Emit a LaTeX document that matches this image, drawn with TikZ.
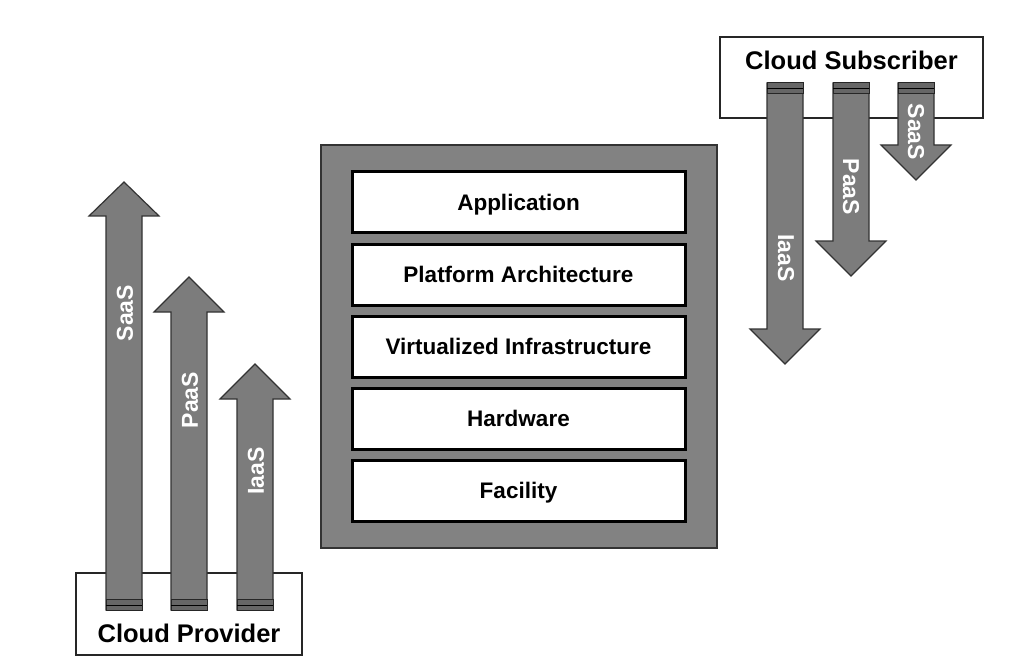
\documentclass[tikz,border=0pt]{standalone}
\usepackage{fontspec}
\setmainfont{Liberation Sans}

\tikzset{
  arrowbody/.style={fill=arrowgray, draw=black!80, line width=1.2pt, line join=miter},
  arrowbase/.style={fill=black!60, draw=black!85, line width=1.0pt},
  stripe/.style={draw=black, line width=1.4pt},
  arrowlbl/.style={text=white, inner sep=0pt, font=\fontsize{23}{27}\selectfont\bfseries},
  layer/.style={draw=black, line width=3pt, fill=white, minimum width=333pt, minimum height=61pt,
                inner sep=0pt, text height=16pt, text depth=0pt, font=\fontsize{22.5}{27}\selectfont\bfseries},
  stack/.style={draw=black!80, line width=1.2pt, fill=stackgray, minimum width=396pt, minimum height=403pt, inner sep=0pt},
  party/.style={draw=black!85, line width=1.2pt, fill=white, inner sep=0pt},
  partylbl/.style={inner sep=0pt, font=\fontsize{25.5}{30}\selectfont\bfseries}
}
\definecolor{arrowgray}{HTML}{7C7C7C}
\definecolor{stackgray}{HTML}{828282}

\begin{document}
\begin{tikzpicture}[x=1pt, y=-1pt]

  %% ════ canvas ════
  \path[use as bounding box, fill=white] (0,0) rectangle (1024,668);

  %% ════ layer stack (middle) ════
  \node[stack] (stack) at (519,346.5) {};
  \node[layer] (app)  at (518.5,202.5) {Application};
  \node[layer] (plat) at (518.5,274.5) {Platform Architecture};
  \node[layer] (virt) at (518.5,346.5) {Virtualized Infrastructure};
  \node[layer] (hw)   at (518.5,418.5) {Hardware};
  \node[layer] (fac)  at (518.5,490.5) {Facility};

  %% ════ Cloud Provider (bottom left) ════
  \node[party, minimum width=226pt, minimum height=82pt] (provider) at (189,614) {};
  \node[partylbl] (providerlbl) at (189,633) {Cloud Provider};

  % SaaS
  \draw[arrowbody] (106,610) -- (106,216) -- (89,216) -- (124,182) -- (159,216) -- (142,216) -- (142,610) -- cycle;
  \draw[arrowbase] (106,599) rectangle (142,610);
  \draw[stripe] (106,605.5) -- (142,605.5);
  \node[arrowlbl, rotate=90] (saasup) at (125,313) {SaaS};
  % PaaS
  \draw[arrowbody] (171,610) -- (171,312) -- (154,312) -- (189,277) -- (224,312) -- (207,312) -- (207,610) -- cycle;
  \draw[arrowbase] (171,599) rectangle (207,610);
  \draw[stripe] (171,605.5) -- (207,605.5);
  \node[arrowlbl, rotate=90] (paasup) at (190,400) {PaaS};
  % IaaS
  \draw[arrowbody] (237,610) -- (237,399) -- (220,399) -- (255,364) -- (290,399) -- (273,399) -- (273,610) -- cycle;
  \draw[arrowbase] (237,599) rectangle (273,610);
  \draw[stripe] (237,605.5) -- (273,605.5);
  \node[arrowlbl, rotate=90] (iaasup) at (256,471) {IaaS};

  %% ════ Cloud Subscriber (top right) ════
  \node[party, minimum width=263pt, minimum height=81pt] (subscriber) at (851.5,77.5) {};
  \node[partylbl] (subscriberlbl) at (851.5,60) {Cloud Subscriber};

  % IaaS
  \draw[arrowbody] (767,83) -- (767,329) -- (750,329) -- (785,364) -- (820,329) -- (803,329) -- (803,83) -- cycle;
  \draw[arrowbase] (767,83) rectangle (803,94);
  \draw[stripe] (767,88.5) -- (803,88.5);
  \node[arrowlbl, rotate=-90] (iaasdown) at (786,258) {IaaS};
  % PaaS
  \draw[arrowbody] (833,83) -- (833,241) -- (816,241) -- (851,276) -- (886,241) -- (869,241) -- (869,83) -- cycle;
  \draw[arrowbase] (833,83) rectangle (869,94);
  \draw[stripe] (833,88.5) -- (869,88.5);
  \node[arrowlbl, rotate=-90] (paasdown) at (851,187) {PaaS};
  % SaaS
  \draw[arrowbody] (898,83) -- (898,145) -- (881,145) -- (916,180) -- (951,145) -- (934,145) -- (934,83) -- cycle;
  \draw[arrowbase] (898,83) rectangle (934,94);
  \draw[stripe] (898,88.5) -- (934,88.5);
  \node[arrowlbl, rotate=-90] (saasdown) at (916,132) {SaaS};

\end{tikzpicture}
\end{document}
